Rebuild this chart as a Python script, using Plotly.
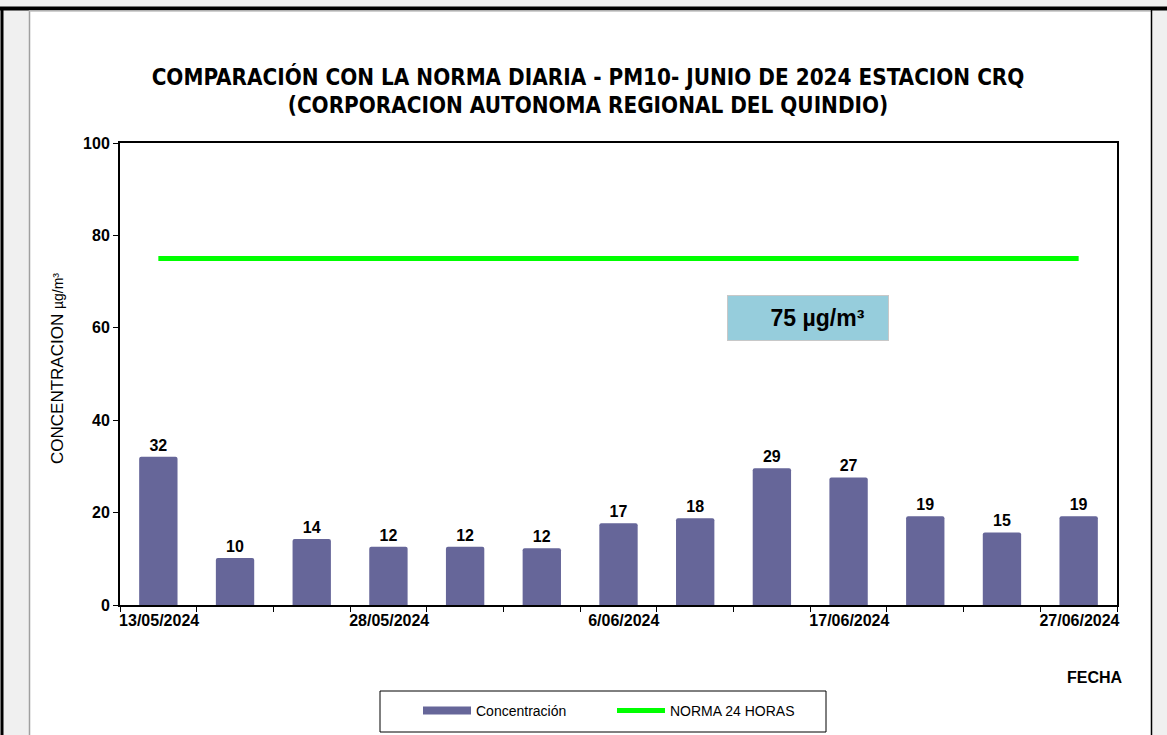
import plotly.graph_objects as go

# ---- data ----
values = [32.1, 10.2, 14.3, 12.6, 12.6, 12.3, 17.7, 18.8, 29.6, 27.6, 19.2, 15.7, 19.2]
value_labels = [str(int(v)) for v in values]
norma = [75] * len(values)
date_labels = ["13/05/2024", "28/05/2024", "6/06/2024", "17/06/2024", "27/06/2024"]
date_bar_index = [0, 3, 6, 9, 12]

n = len(values)
xs = list(range(n))

# tick marks at category boundaries, labels attached at the boundary after their bar
tickvals = [i - 0.5 for i in range(n + 1)]
ticktext = [""] * (n + 1)
for lbl, idx in zip(date_labels, date_bar_index):
    ticktext[idx + 1] = lbl

W, H = 1167, 735
L, R, T, B = 120, 50, 143, 130
pw, ph = W - L - R, H - T - B


def px(xp):
    return (xp - L) / pw


def py(yp):
    return (H - B - yp) / ph


ARIAL = "Liberation Sans, Arial, sans-serif"
BAR_COLOR = "#666699"

fig = go.Figure()
fig.add_trace(go.Bar(
    x=xs, y=values, width=0.5, name="Concentración",
    legendgroup="conc", showlegend=False,
    marker=dict(color=BAR_COLOR, line=dict(width=0), cornerradius=2),
    text=value_labels, textposition="outside", cliponaxis=False,
    textfont=dict(family=ARIAL, size=16, color="black", weight="bold"),
))
# legend swatch for the bars (wide flat band, like the original)
fig.add_trace(go.Scatter(
    x=[None], y=[None], mode="lines", name="Concentración",
    legendgroup="conc", showlegend=True,
    line=dict(color=BAR_COLOR, width=8),
))
fig.add_trace(go.Scatter(
    x=xs, y=norma, mode="lines", name="NORMA 24 HORAS",
    line=dict(color="#00ff00", width=5),
))

shapes = [
    # white sheet
    dict(type="rect", xref="paper", yref="paper", x0=px(30), x1=px(1151), y0=py(740), y1=py(10),
         fillcolor="white", line=dict(width=0), layer="below"),
    # legend frame
    dict(type="rect", xref="paper", yref="paper", x0=px(380), x1=px(826), y0=py(732), y1=py(691),
         fillcolor="white", line=dict(color="black", width=1), layer="below"),
    # left black edge
    dict(type="line", xref="paper", yref="paper", x0=px(2), x1=px(2), y0=py(740), y1=py(7),
         line=dict(color="black", width=3)),
    # top black band
    dict(type="line", xref="paper", yref="paper", x0=px(0), x1=px(1167), y0=py(8.5), y1=py(8.5),
         line=dict(color="black", width=4)),
    # gray line left of sheet
    dict(type="line", xref="paper", yref="paper", x0=px(29.5), x1=px(29.5), y0=py(740), y1=py(10),
         line=dict(color="#a0a0a0", width=1.5)),
    # gray line under top band
    dict(type="line", xref="paper", yref="paper", x0=px(29.5), x1=px(1151), y0=py(11), y1=py(11),
         line=dict(color="#c0c0c0", width=1.5)),
    # right black edge
    dict(type="line", xref="paper", yref="paper", x0=px(1151.5), x1=px(1151.5), y0=py(740), y1=py(10),
         line=dict(color="black", width=1.5)),
]

annotations = [
    dict(text="&nbsp;&nbsp;&nbsp;75 µg/m³", x=8.47, y=62.1, xref="x", yref="y", showarrow=False,
         xanchor="center", yanchor="middle",
         font=dict(family=ARIAL, size=23, color="black", weight="bold"),
         bgcolor="#96cddc", bordercolor="#c8c8c8", borderwidth=1,
         width=158, height=42, align="center"),
    dict(text="CONCENTRACION <span style='font-size:14px'>µg/m³</span>", textangle=-90,
         x=px(57), y=py(368), xref="paper", yref="paper", showarrow=False,
         xanchor="center", yanchor="middle",
         font=dict(family=ARIAL, size=17, color="black")),
    dict(text="FECHA", x=px(1095), y=py(677), xref="paper", yref="paper", showarrow=False,
         xanchor="center", yanchor="middle",
         font=dict(family=ARIAL, size=16, color="black", weight="bold")),
]

fig.update_layout(
    width=W, height=H,
    margin=dict(l=L, r=R, t=T, b=B, pad=0, autoexpand=False),
    paper_bgcolor="#f0f0f0", plot_bgcolor="white",
    title=dict(
        text="COMPARACIÓN CON LA NORMA DIARIA - PM10- JUNIO DE 2024 ESTACION CRQ<br>(CORPORACION AUTONOMA REGIONAL DEL QUINDIO)",
        x=588 / W, y=1 - 84.5 / H, xref="container", yref="container",
        xanchor="center", yanchor="middle",
        font=dict(family="DejaVu Sans Condensed, DejaVu Sans, sans-serif", size=22.3, color="black", weight="bold"),
    ),
    xaxis=dict(
        range=[-0.5, 12.5], tickmode="array", tickvals=tickvals, ticktext=ticktext,
        ticklabelposition="outside left", ticklabelshift=4,
        ticks="outside", ticklen=5, tickcolor="black", tickwidth=1,
        showgrid=False, zeroline=False, showline=True, linecolor="black", linewidth=2, mirror=True,
        tickfont=dict(family=ARIAL, size=16, color="black", weight="bold"),
    ),
    yaxis=dict(
        range=[0, 100], dtick=20, ticks="outside", ticklen=5, tickcolor="black", tickwidth=1,
        showgrid=False, zeroline=False, showline=True, linecolor="black", linewidth=2, mirror=True,
        tickfont=dict(family=ARIAL, size=16, color="black", weight="bold"),
    ),
    bargap=0.5,
    showlegend=True,
    legend=dict(
        orientation="h", x=px(418), y=py(695), xanchor="left", yanchor="top",
        borderwidth=0, bgcolor="rgba(0,0,0,0)",
        font=dict(family=ARIAL, size=14, color="black"),
        entrywidth=131, itemwidth=48,
    ),
    shapes=shapes,
    annotations=annotations,
)

fig.write_html(
    "out.html",
    config={"displayModeBar": False},
    post_script="document.body.style.margin='0';document.body.style.overflow='hidden';",
)
